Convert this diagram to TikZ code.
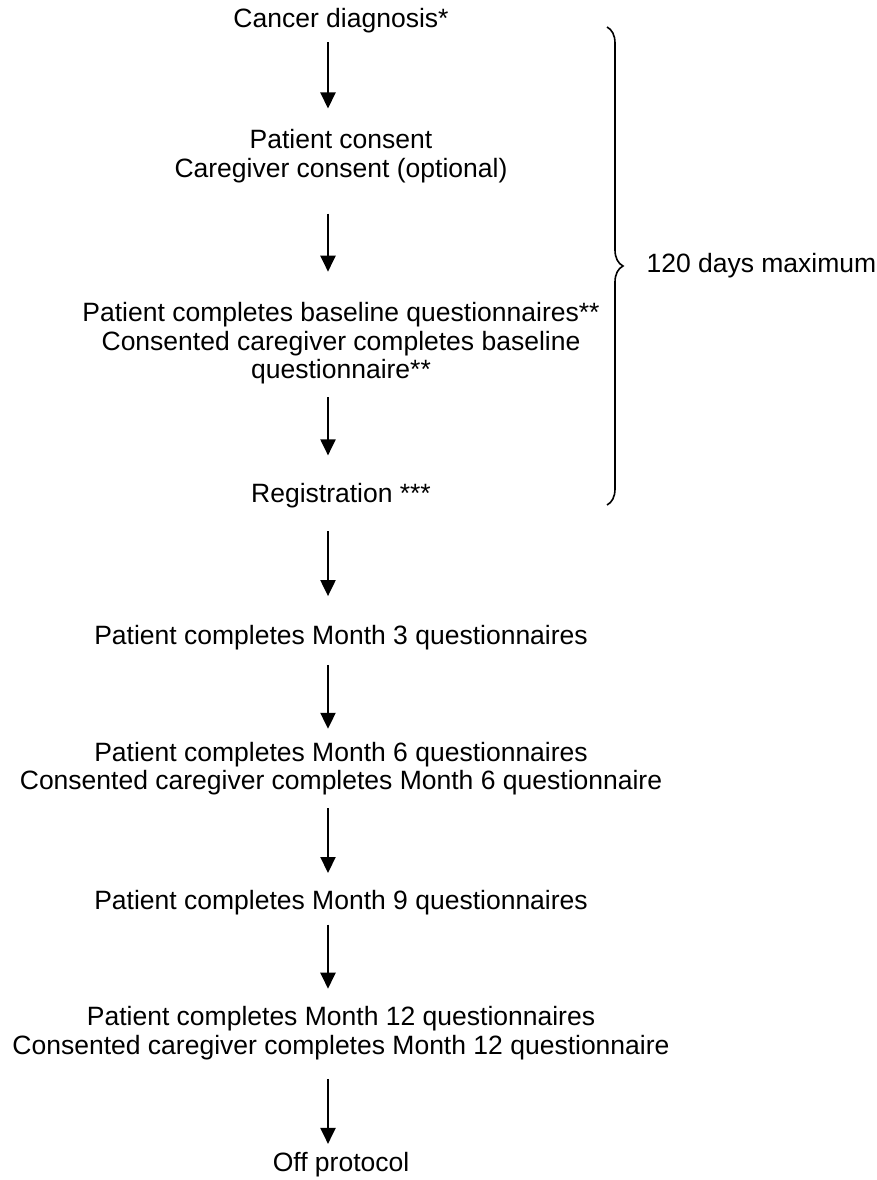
\documentclass[tikz,border=0pt]{standalone}
\usepackage{fontspec}
\setmainfont{Liberation Sans}
\usetikzlibrary{positioning,arrows.meta,decorations.pathreplacing}
\tikzset{
    every node/.style={font=\fontsize{26.5pt}{28.5pt}\selectfont}, % text size of all steps
    }
\begin{document}
\begin{tikzpicture}[x=1pt,y=-1pt,
stepnode/.style={align=center, inner sep=0pt, outer sep=0pt},
flow/.style={line width=2.1pt, -{Triangle[length=16pt,width=15pt]}},
]
\useasboundingbox (0,0) rectangle (877,1180);

\node[stepnode, anchor=base] (diagnosis) at (341,28) {Cancer diagnosis*};
\node[stepnode] (consent) [below=96pt of diagnosis] {Patient consent\\Caregiver consent (optional)};
\node[stepnode] (baseline) [below=120pt of consent] {Patient completes baseline questionnaires**\\Consented caregiver completes baseline\\questionnaire**};
\node[stepnode] (registration) [below=99pt of baseline] {Registration ***};
\node[stepnode] (month3) [below=117pt of registration] {Patient completes Month 3 questionnaires};
\node[stepnode] (month6) [below=92pt of month3] {Patient completes Month 6 questionnaires\\Consented caregiver completes Month 6 questionnaire};
\node[stepnode] (month9) [below=95pt of month6] {Patient completes Month 9 questionnaires};
\node[stepnode] (month12) [below=92pt of month9] {Patient completes Month 12 questionnaires\\Consented caregiver completes Month 12 questionnaire};
\node[stepnode] (offprotocol) [below=92pt of month12] {Off protocol};

\draw[flow, shorten <=9pt, shorten >=21pt] ([xshift=-13pt]diagnosis.south) -- ([xshift=-13pt]consent.north);
\draw[flow, shorten <=31pt, shorten >=31pt] ([xshift=-13pt]consent.south) -- ([xshift=-13pt]baseline.north);
\draw[flow, shorten <=13pt, shorten >=28pt] ([xshift=-13pt]baseline.south) -- ([xshift=-13pt]registration.north);
\draw[flow, shorten <=23pt, shorten >=29pt] ([xshift=-13pt]registration.south) -- ([xshift=-13pt]month3.north);
\draw[flow, shorten <=15pt, shorten >=13pt] ([xshift=-13pt]month3.south) -- ([xshift=-13pt]month6.north);
\draw[flow, shorten <=13pt, shorten >=17pt] ([xshift=-13pt]month6.south) -- ([xshift=-13pt]month9.north);
\draw[flow, shorten <=10pt, shorten >=18pt] ([xshift=-13pt]month9.south) -- ([xshift=-13pt]month12.north);
\draw[flow, shorten <=19pt, shorten >=8pt] ([xshift=-13pt]month12.south) -- ([xshift=-13pt]offprotocol.north);

% brace over the first 120 days
\coordinate (braceTop) at (607,27);
\coordinate (braceBot) at (607,505);
\draw[decorate, decoration={brace, amplitude=16pt}, line width=1.6pt] (braceTop) -- (braceBot);
\node[anchor=west] (limit) at (643,266) {120 days maximum};
\end{tikzpicture}
\end{document}
